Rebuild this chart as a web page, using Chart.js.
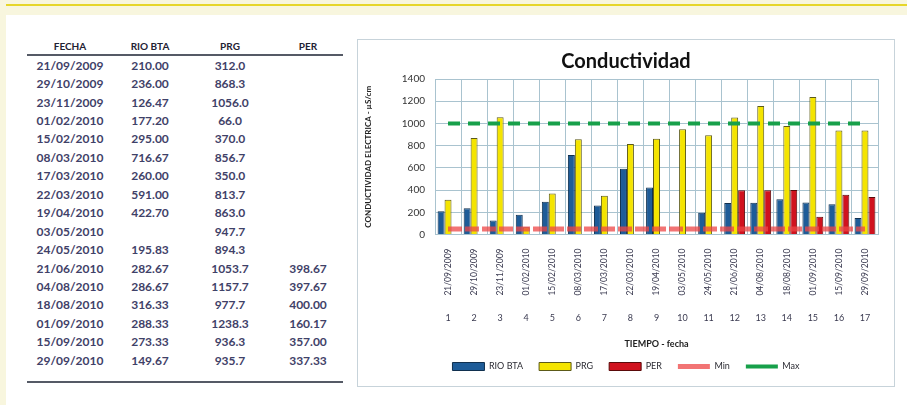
<!DOCTYPE html>
<html lang="es">
<head>
<meta charset="utf-8">
<title>Conductividad</title>
<script src="https://cdn.jsdelivr.net/npm/chart.js@4.4.1/dist/chart.umd.min.js"></script>
<style>
  html, body { margin: 0; padding: 0; }
  body { width: 907px; height: 405px; background: #fff; position: relative; overflow: hidden; font-family: Lato, "Liberation Sans", sans-serif; }
  #topband { position: absolute; left: 0; top: 0; width: 907px; height: 15px; background: #f8f6de; }
  #topline { position: absolute; left: 0; top: 4px; width: 907px; height: 2px; background: #e6d62a; }
  #leftband { position: absolute; left: 0; top: 0; width: 6px; height: 405px; background: #f8f6de; }
  #tabla { position: absolute; left: 27px; top: 37px; border-collapse: collapse; table-layout: fixed; width: 316px; }
  #tabla th { height: 17px; padding: 0; font-size: 10px; font-weight: bold; color: #1f2233; border-bottom: 2px solid #555a66; text-align: center; }
  #tabla td { height: 18.45px; padding: 0; font-size: 12px; font-weight: bold; color: #3f4168; text-align: center; }
  #linea { position: absolute; left: 27px; top: 381px; width: 316px; height: 2px; background: #555a66; }
  #panel { position: absolute; left: 357px; top: 39px; width: 536px; height: 346px; border: 1px solid #c7d3da; }
  #grafico { display: block; }
</style>
</head>
<body>
<div id="topband"></div>
<div id="topline"></div>
<div id="leftband"></div>

<table id="tabla">
  <colgroup><col style="width:86px"><col style="width:74px"><col style="width:86px"><col style="width:70px"></colgroup>
  <thead><tr><th>FECHA</th><th>RIO BTA</th><th>PRG</th><th>PER</th></tr></thead>
  <tbody id="filas"></tbody>
</table>
<div id="linea"></div>

<div id="panel"><canvas id="grafico" width="536" height="346"></canvas></div>

<script>
// datos de la tabla / grafico
var fechas = ["21/09/2009", "29/10/2009", "23/11/2009", "01/02/2010", "15/02/2010", "08/03/2010",
  "17/03/2010", "22/03/2010", "19/04/2010", "03/05/2010", "24/05/2010", "21/06/2010",
  "04/08/2010", "18/08/2010", "01/09/2010", "15/09/2010", "29/09/2010"];
var numeros = ["1", "2", "3", "4", "5", "6", "7", "8", "9", "10", "11", "12", "13", "14", "15", "16", "17"];
var rioBta = [210.00, 236.00, 126.47, 177.20, 295.00, 716.67, 260.00, 591.00, 422.70, null, 195.83,
  282.67, 286.67, 316.33, 288.33, 273.33, 149.67];
var prg = [312.0, 868.3, 1056.0, 66.0, 370.0, 856.7, 350.0, 813.7, 863.0, 947.7, 894.3,
  1053.7, 1157.7, 977.7, 1238.3, 936.3, 935.7];
var per = [null, null, null, null, null, null, null, null, null, null, null,
  398.67, 397.67, 400.00, 160.17, 357.00, 337.33];
var minimo = [50, 50, 50, 50, 50, 50, 50, 50, 50, 50, 50, 50, 50, 50, 50, 50, 50];
var maximo = [1000, 1000, 1000, 1000, 1000, 1000, 1000, 1000, 1000, 1000, 1000, 1000, 1000, 1000, 1000, 1000, 1000];
var yTicks = [0, 200, 400, 600, 800, 1000, 1200, 1400];

// tabla
var filas = document.getElementById("filas");
function fmt(v, d) { return v === null ? "" : v.toFixed(d); }
for (var i = 0; i < fechas.length; i++) {
  var tr = document.createElement("tr");
  [fechas[i], fmt(rioBta[i], 2), fmt(prg[i], 1), fmt(per[i], 2)].forEach(function (t) {
    var td = document.createElement("td");
    td.textContent = t;
    tr.appendChild(td);
  });
  filas.appendChild(tr);
}

// grafico
Chart.defaults.font.family = 'Lato, "Liberation Sans", sans-serif';
Chart.defaults.color = "#2b2b33";
var gridColor = "#a9c3cf";

var ctx = document.getElementById("grafico").getContext("2d");
var myChart = new Chart(ctx, {
  type: "bar",
  data: {
    labels: fechas,
    datasets: [
      { label: "RIO BTA", data: rioBta, backgroundColor: "#1e5c98", borderColor: "#10304f", borderWidth: 1, order: 1, pointStyle: "rect" },
      { label: "PRG", data: prg, backgroundColor: "#f4e400", borderColor: "#5c5a18", borderWidth: 1, order: 1, pointStyle: "rect" },
      { label: "PER", data: per, backgroundColor: "#d0121e", borderColor: "#5a0a0a", borderWidth: 1, order: 1, pointStyle: "rect" },
      { type: "line", label: "Min", data: minimo, borderColor: "rgba(238,70,70,0.75)", backgroundColor: "rgba(238,70,70,0.75)",
        borderWidth: 5, borderDash: [14, 3], pointRadius: 0, pointStyle: "line", order: 0 },
      { type: "line", label: "Max", data: maximo, borderColor: "#17a04a", backgroundColor: "#17a04a",
        borderWidth: 4, borderDash: [12, 8], pointRadius: 0, pointStyle: "line", order: 0 }
    ]
  },
  options: {
    responsive: false,
    animation: false,
    layout: { padding: { top: 0, right: 0, bottom: 5, left: 0 } },
    datasets: { bar: { categoryPercentage: 0.8, barPercentage: 1.0 } },
    plugins: {
      title: {
        display: true,
        text: "Conductividad",
        color: "#111",
        font: { size: 20, weight: "bold" },
        padding: { top: 10, bottom: 5 }
      },
      legend: {
        position: "bottom",
        labels: {
          usePointStyle: true,
          pointStyleWidth: 32,
          boxWidth: 32,
          boxHeight: 8,
          padding: 16,
          font: { size: 9 },
          sort: function (a, b) { return a.datasetIndex - b.datasetIndex; }
        }
      },
      tooltip: { enabled: false }
    },
    scales: {
      x: {
        type: "category",
        position: "bottom",
        offset: true,
        grid: { color: gridColor, offset: true, drawTicks: false },
        border: { color: gridColor },
        ticks: { minRotation: 90, maxRotation: 90, padding: 14, font: { size: 8.5 }, color: "#3a3a50" },
        afterFit: function (s) { s.height = 72; }
      },
      x2: {
        type: "category",
        position: "bottom",
        labels: numeros,
        offset: true,
        grid: { display: false, drawTicks: false },
        border: { display: false },
        ticks: { padding: 6, font: { size: 9 }, color: "#3a3a50" },
        title: { display: true, text: "TIEMPO - fecha", font: { size: 9, weight: "bold" }, color: "#222", padding: { top: 0, bottom: -3 } },
        afterFit: function (s) { s.height = 39.5; }
      },
      y: {
        min: 0,
        max: 1400,
        grid: { color: gridColor, drawTicks: false },
        border: { color: gridColor },
        afterBuildTicks: function (s) { s.ticks = yTicks.map(function (v) { return { value: v }; }); },
        ticks: { padding: 10, font: { size: 10 }, color: "#333", callback: function (v) { return String(v); } },
        title: { display: true, text: "CONDUCTIVIDAD ELECTRICA - µS/cm", font: { size: 8, weight: "bold" }, color: "#222", padding: { top: 5.5, bottom: 0 } },
        afterFit: function (s) { s.width = 77; }
      },
      yd: {
        position: "right",
        display: true,
        grid: { display: false, drawTicks: false },
        border: { display: false },
        ticks: { display: false },
        afterFit: function (s) { s.width = 16; }
      }
    }
  }
});
</script>
</body>
</html>
